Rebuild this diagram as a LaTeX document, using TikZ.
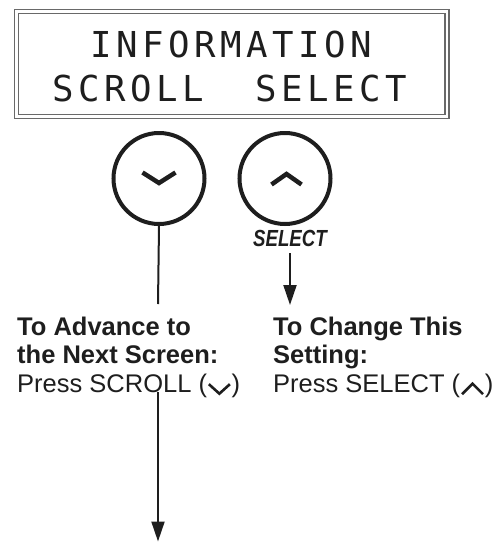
\documentclass[tikz,border=0pt]{standalone}
\usepackage{fontspec}
\setmainfont{Liberation Sans}
\newfontfamily\lcdfont[LetterSpace=12.6]{DejaVu Sans Mono}
\usetikzlibrary{arrows.meta}
\definecolor{framegray}{RGB}{105,105,105}
\definecolor{ink}{RGB}{30,30,30}
% small chevrons used inside the text
\newcommand{\chevdn}{\hspace{0.5pt}\tikz[x=1pt,y=1pt,baseline=0pt]
  \draw[line width=2.6pt,ink] (0,8) -- (10.5,-1.5) -- (21,8);\hspace{0.5pt}}
\newcommand{\chevup}{\hspace{0.5pt}\tikz[x=1pt,y=1pt,baseline=0pt]
  \draw[line width=2.6pt,ink] (0,-2) -- (10.5,8.5) -- (21,-2);\hspace{0.5pt}}
\begin{document}
\begin{tikzpicture}[x=1pt,y=-1pt,
  lcd/.style={anchor=base,inner sep=0pt,ink,
    font=\lcdfont\fontsize{35.7}{40}\selectfont},
  keycircle/.style={circle,draw=ink,line width=4pt,minimum size=91pt,inner sep=0pt},
  chev/.style={ink,line width=4.5pt,line join=miter},
  desc/.style={anchor=north west,inner sep=0pt,align=left,ink,
    font=\fontsize{25.5}{28.5}\selectfont},
  lead/.style={ink,line width=2pt},
  arrow/.style={lead,-{Triangle[length=20pt,width=13pt]}}]
\useasboundingbox (0,0) rectangle (504,550);
% display
\draw[framegray,line width=1.3pt] (14.5,9.5) rectangle (449,118.5);
\draw[framegray,line width=1.3pt] (18.5,13.5) rectangle (445,114.5);
\node[lcd] (info) at (231,57.5) {INFORMATION};
\node[lcd] (menu) at (230,101.5) {SCROLL~~SELECT};
% keys
\node[keycircle] (scroll) at (159,178.5) {};
\node[keycircle] (select) at (285,178.5) {};
\draw[chev] ([shift={(-16.5,-6)}]scroll.center) -- ([shift={(0,4.5)}]scroll.center)
  -- ([shift={(16.5,-6)}]scroll.center);
\draw[chev] ([shift={(-13.5,6)}]select.center) -- ([shift={(1.5,-4.5)}]select.center)
  -- ([shift={(16.5,6)}]select.center);
\node[anchor=base,inner sep=2pt,ink] (sellabel) at (290,246.7)
  {\scalebox{0.8}[1]{\fontsize{23.3}{26}\selectfont\bfseries\itshape SELECT}};
% texts
\node[desc] (adv) at (17,316.5) {\textbf{To Advance to}\\
  \textbf{the Next Screen:}\\ Press SCROLL (\chevdn)};
\node[desc] (chg) at (273,316.5) {\textbf{To Change This}\\
  \textbf{Setting:}\\ Press SELECT (\chevup)};
% connectors
\coordinate (advtop) at (158,304);
\coordinate (nextstart) at (158,392);
\coordinate (nextend) at (158,541.5);
\coordinate (chgtop) at (290,305);
\draw[lead] (scroll.south) -- (advtop);
\draw[arrow] (nextstart) -- (nextend);
\draw[arrow] (sellabel.south) ++(0,4) -- (chgtop);
\end{tikzpicture}
\end{document}
